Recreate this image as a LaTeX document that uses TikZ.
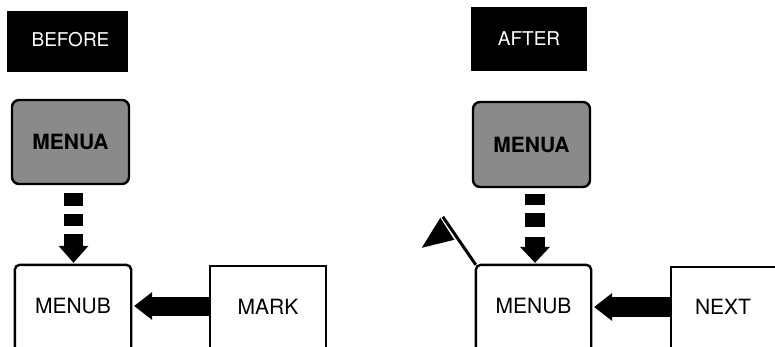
\documentclass[tikz,border=0pt]{standalone}
\usepackage{fontspec}
\setmainfont{TeX Gyre Heros}
\usetikzlibrary{calc}
\tikzset{
  tag/.style={fill=black, text=white, inner sep=0pt, font=\fontsize{19}{23}\selectfont},
  screen/.style={draw=black, line width=2.4pt, rounded corners=7pt, fill=black!46, inner sep=0pt, font=\fontsize{21}{25}\selectfont\bfseries},
  panel/.style={inner sep=0pt, font=\fontsize{21}{25}\selectfont},
  frame/.style={line width=2.4pt, rounded corners=5pt},
  plainframe/.style={line width=1.8pt},
  pole/.style={line width=3pt},
}
\begin{document}
\begin{tikzpicture}[x=1pt,y=-1pt]
\useasboundingbox (0,0) rectangle (775,347);
% BEFORE side
\node[tag, minimum width=121pt, minimum height=61pt] (before) at (67.5,41.5) {};
\node[text=white, font=\fontsize{19}{23}\selectfont, inner sep=0pt] (beforetext) at ($(before.center)+(3,-2)$) {BEFORE};
\node[screen, minimum width=117pt, minimum height=84pt] (menuAL) at (70.5,142) {MENUA};
\node[panel, minimum width=116pt, minimum height=82pt] (menuBL) at (73,306) {MENUB};
\draw[frame] (menuBL.south west) -- (menuBL.north west) -- (menuBL.north east) -- (menuBL.south east);
\node[panel, minimum width=116pt, minimum height=81pt] (mark) at (268,306.5) {MARK};
\draw[plainframe] (mark.south west) -- (mark.north west) -- (mark.north east) -- (mark.south east);
% dashed block arrow MENUA -> MENUB (left)
\begin{scope}[shift={(menuBL.north)}]
  \fill (0.5,-2) -- (-14.5,-19) -- (15.5,-19) -- cycle;
  \fill (-9,-18) rectangle (10,-31);
  \fill (-9,-39) rectangle (10,-51);
  \fill (-9,-59) rectangle (10,-72);
\end{scope}
% block arrow MARK -> MENUB (left)
\fill ($(menuBL.east)+(3,0)$) -- ($(menuBL.east)+(21,-14)$) -- ($(menuBL.east)+(21,14)$) -- cycle;
\fill ($(menuBL.east)+(20,-9.5)$) rectangle ($(menuBL.east -| mark.west)+(0.5,9.5)$);
% AFTER side
\node[tag, minimum width=116pt, minimum height=64pt] (after) at (529,39) {AFTER};
\node[screen, minimum width=117pt, minimum height=85pt] (menuAR) at (531.5,144.5) {MENUA};
\node[panel, minimum width=115pt, minimum height=82pt] (menuBR) at (533.5,306) {MENUB};
\draw[frame] (menuBR.south west) -- (menuBR.north west) -- (menuBR.north east) -- (menuBR.south east);
\node[panel, minimum width=104pt, minimum height=80pt] (next) at (723,307) {NEXT};
\draw[plainframe] (next.south west) -- (next.north west) -- ($(next.north east)+(3,0)$);
% dashed block arrow MENUA -> MENUB (right)
\begin{scope}[shift={(menuBR.north)}]
  \fill (1.5,-2) -- (-13.5,-18) -- (16.5,-18) -- cycle;
  \fill (-8.5,-17) rectangle (11.5,-28);
  \fill (-8.5,-38) rectangle (11.5,-52);
  \fill (-8.5,-60) rectangle (11.5,-71);
\end{scope}
% block arrow NEXT -> MENUB (right)
\fill ($(menuBR.east)+(3,1)$) -- ($(menuBR.east)+(21,-13)$) -- ($(menuBR.east)+(21,15)$) -- cycle;
\fill ($(menuBR.east)+(20,-9)$) rectangle ($(menuBR.east -| next.west)+(0.5,11)$);
% flag on MENUB corner
\begin{scope}[shift={(menuBR.north west)}]
  \fill (-35.5,-47) -- (-54,-17) -- (-21.5,-25) -- cycle;
  \draw[white, line width=4.6pt] (-33,-48) -- (-15,-22);
  \draw[pole] (-33,-48) -- (0,0);
\end{scope}
\end{tikzpicture}
\end{document}
